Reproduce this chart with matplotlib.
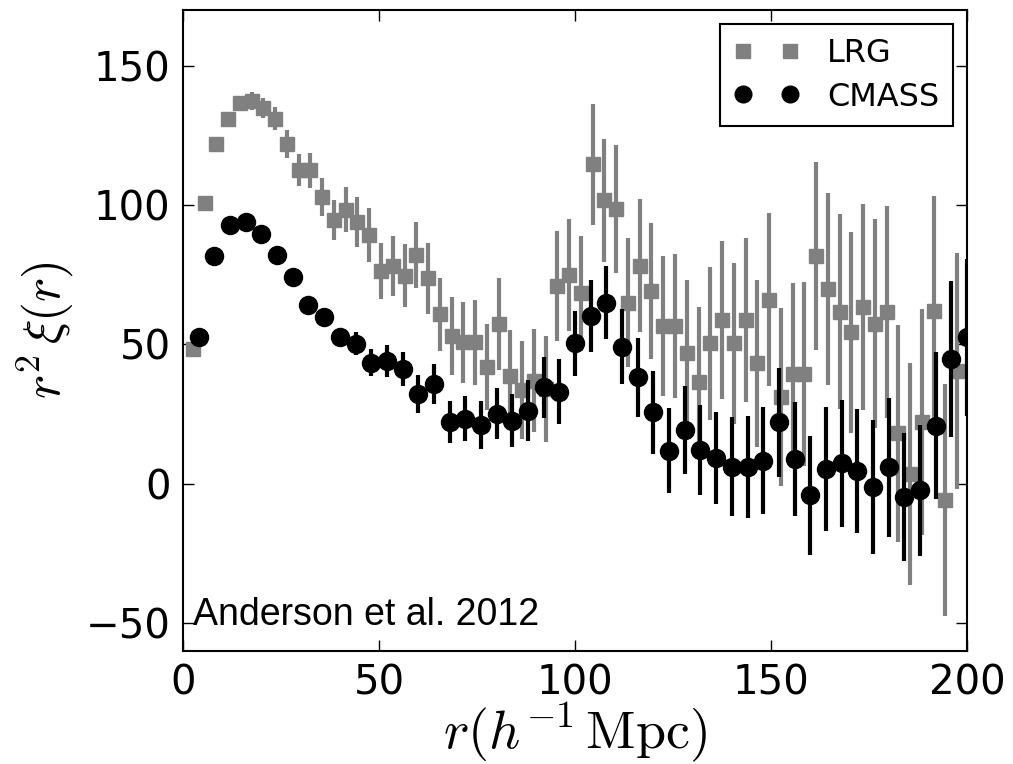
import matplotlib
matplotlib.use("Agg")
import matplotlib.pyplot as plt
from matplotlib.lines import Line2D

plt.rcParams['mathtext.fontset'] = 'cm'

# LRG correlation function (bin centre, r^2 xi, error)
lrg_r = [2.5, 5.5, 8.5, 11.5, 14.5, 17.5, 20.5, 23.5, 26.5, 29.5,
         32.5, 35.5, 38.5, 41.5, 44.5, 47.5, 50.5, 53.5, 56.5, 59.5,
         62.5, 65.5, 68.5, 71.5, 74.5, 77.5, 80.5, 83.5, 86.5, 89.5,
         92.5, 95.5, 98.5, 101.5, 104.5, 107.5, 110.5, 113.5, 116.5, 119.5,
         122.5, 125.5, 128.5, 131.5, 134.5, 137.5, 140.5, 143.5, 146.5, 149.5,
         152.5, 155.5, 158.5, 161.5, 164.5, 167.5, 170.5, 173.5, 176.5, 179.5,
         182.5, 185.5, 188.5, 191.5, 194.5, 197.5]
lrg_xi = [48.5, 100.8, 121.8, 131.0, 136.7, 137.4, 134.7, 131.0, 121.9, 112.5,
          112.5, 103.0, 94.6, 98.4, 94.0, 89.3, 76.4, 78.2, 74.6, 82.1,
          73.7, 60.8, 53.1, 50.7, 50.7, 42.0, 57.3, 38.8, 33.6, 37.0,
          34.0, 71.0, 74.9, 68.3, 114.6, 101.7, 98.7, 65.0, 78.2, 69.2,
          56.7, 56.7, 47.1, 36.4, 50.4, 58.7, 50.4, 58.7, 43.2, 66.0,
          31.0, 39.4, 39.4, 81.7, 69.8, 61.8, 54.3, 63.5, 57.5, 61.7,
          18.1, 3.5, 22.1, 62.0, -5.8, 40.6]
lrg_err = [1.0, 1.0, 1.0, 1.5, 2.0, 3.3, 3.6, 4.2, 5.0, 5.7,
           6.3, 6.9, 7.3, 8.2, 9.0, 9.6, 10.0, 10.7, 11.3, 11.9,
           12.6, 13.1, 14.0, 14.6, 15.2, 15.4, 16.4, 16.4, 17.6, 18.4,
           19.1, 19.6, 20.1, 20.5, 21.7, 22.0, 22.9, 23.1, 23.9, 24.5,
           25.2, 25.8, 26.0, 27.0, 27.5, 28.3, 29.0, 29.5, 30.0, 31.0,
           31.9, 32.5, 33.0, 33.6, 34.4, 35.0, 36.0, 36.9, 37.4, 38.0,
           39.0, 39.7, 40.6, 41.3, 41.6, 42.3]

# CMASS correlation function
cmass_r = [4, 8, 12, 16, 20, 24, 28, 32, 36, 40,
           44, 48, 52, 56, 60, 64, 68, 72, 76, 80,
           84, 88, 92, 96, 100, 104, 108, 112, 116, 120,
           124, 128, 132, 136, 140, 144, 148, 152, 156, 160,
           164, 168, 172, 176, 180, 184, 188, 192, 196, 200]
cmass_xi = [52.7, 81.7, 93.0, 93.9, 89.7, 82.2, 74.2, 64.2, 60.0, 52.5,
            50.3, 43.5, 44.1, 41.2, 32.2, 35.8, 22.1, 23.3, 21.1, 25.1,
            22.7, 26.2, 34.6, 33.0, 50.4, 60.2, 65.0, 49.2, 38.2, 25.6,
            11.9, 19.3, 12.1, 9.2, 6.2, 5.9, 8.3, 22.1, 8.9, -4.2,
            5.4, 7.4, 4.5, -1.2, 5.9, -4.8, -2.4, 20.9, 44.8, 52.5]
cmass_err = [1.0, 1.5, 1.5, 2.0, 2.0, 2.5, 2.5, 3.0, 3.0, 3.5,
             4.2, 4.8, 5.7, 6.1, 6.7, 7.3, 7.6, 8.1, 8.5, 9.1,
             9.5, 11.0, 11.0, 11.6, 11.7, 12.8, 13.1, 13.4, 14.2, 15.0,
             15.3, 15.9, 16.1, 16.6, 17.8, 18.3, 19.2, 19.6, 20.4, 21.2,
             22.3, 22.8, 22.2, 24.0, 24.9, 23.0, 23.6, 26.3, 27.9, 28.2]

lrg_color = '#808080'

fig = plt.figure(figsize=(10.13, 7.64), dpi=100)
ax = fig.add_axes([0.1807, 0.1479, 0.7739, 0.8390])

ax.errorbar(lrg_r, lrg_xi, yerr=lrg_err, fmt='s', color=lrg_color,
            ms=10.5, mec=lrg_color, elinewidth=3, capsize=0, zorder=2)
ax.errorbar(cmass_r, cmass_xi, yerr=cmass_err, fmt='o', color='black',
            ms=13, elinewidth=3, capsize=0, zorder=3)

ax.set_xlim(0, 200)
ax.set_ylim(-60, 170)
ax.set_xticks([0, 50, 100, 150, 200])
ax.set_yticks([-50, 0, 50, 100, 150])

ax.tick_params(direction='in', top=True, right=True, length=8, width=1,
               labelsize=29, pad=9)
for spine in ax.spines.values():
    spine.set_linewidth(1.5)

ax.set_xlabel(r'$r(h^{-1}\,\mathrm{Mpc})$', fontsize=39, labelpad=-2)
ax.set_ylabel(r'$r^2\,\xi(r)$', fontsize=37, labelpad=8)

ax.text(0.013, 0.04, 'Anderson et al. 2012', transform=ax.transAxes,
        fontsize=27, family='Liberation Sans', va='baseline', ha='left')

handles = [
    Line2D([], [], marker='s', ls='none', color=lrg_color, ms=10, label='LRG'),
    Line2D([], [], marker='o', ls='none', color='black', ms=12, label='CMASS'),
]
leg = ax.legend(handles=handles, loc='upper right', numpoints=2,
                fontsize=23, fancybox=False, framealpha=1,
                edgecolor='black', handlelength=2.06, borderaxespad=0.45,
                handletextpad=0.86, borderpad=0.42, labelspacing=0.4)
leg.get_frame().set_linewidth(1.5)

fig.savefig('out.png', dpi=100)
